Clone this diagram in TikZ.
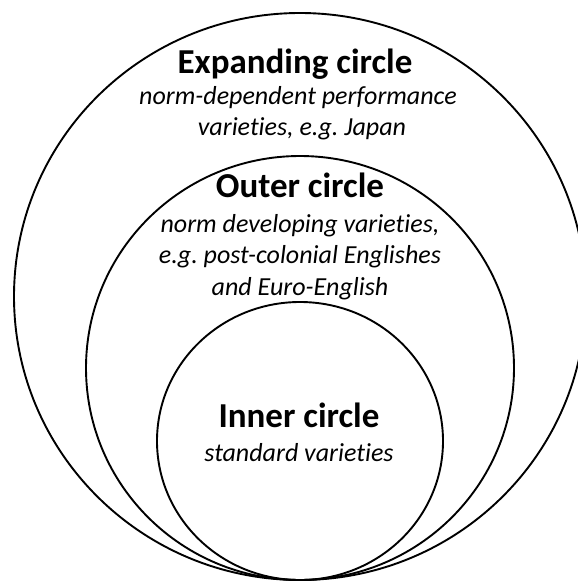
\documentclass[tikz,border=0pt]{standalone}
\usepackage{fontspec}
\setmainfont{Carlito}[Ligatures=NoCommon]
\frenchspacing
\begin{document}
\begin{tikzpicture}[x=1pt, y=-1pt,
  ring/.style={draw, line width=1.9pt},
  ctitle/.style={anchor=base, inner sep=0pt, font=\fontsize{35}{42}\selectfont\bfseries},
  cnote/.style={anchor=base, inner sep=0pt, font=\fontsize{26}{32}\selectfont\itshape}]
\useasboundingbox (0,0) rectangle (578,581);
\clip (0,0) rectangle (578,581);
% circles, all touching at the bottom
\draw[ring] (300,296.5) ellipse [x radius=286, y radius=283.5];
\draw[ring] (300,368) ellipse [x radius=214, y radius=212];
\draw[ring] (300,441) ellipse [x radius=143, y radius=139];
% expanding circle
\node[ctitle] (exp) at (295,73) {Expanding circle};
\node[cnote] (exp1) at (298,104) {norm-dependent performance};
\node[cnote] (exp2) at (302,135) {varieties, e.g. Japan};
% outer circle
\node[ctitle] (out) at (300,197) {Outer circle};
\node[cnote] (out1) at (300,232) {norm developing varieties,};
\node[cnote] (out2) at (300,263) {e.g. post-colonial Englishes};
\node[cnote] (out3) at (300,295) {and Euro-English};
% inner circle
\node[ctitle] (inn) at (299,427) {Inner circle};
\node[cnote] (inn1) at (299,461) {standard varieties};
\end{tikzpicture}
\end{document}
